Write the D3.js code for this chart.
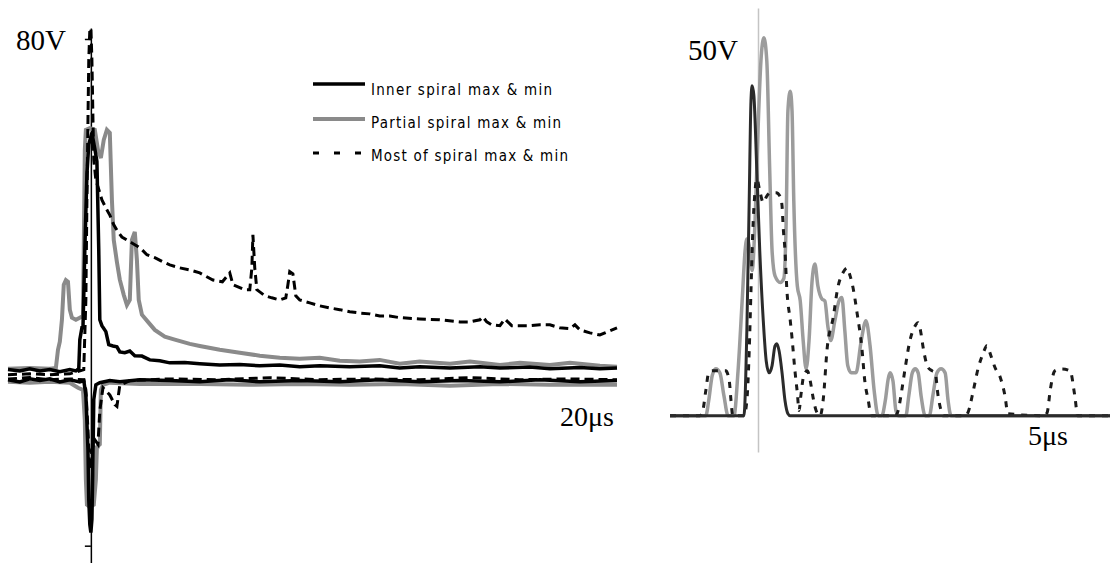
<!DOCTYPE html>
<html><head><meta charset="utf-8">
<script src="https://cdn.jsdelivr.net/npm/d3@7"></script>
<style>html,body{margin:0;padding:0;background:#fff;} svg{display:block;}</style>
</head><body>
<svg id="c" width="1112" height="563"></svg>
<script>
// ---------- LEFT PANEL DATA : [time µs, volts] ----------
const lInnerMax = [[-3.15,1.7],[-2.70,1.4],[-2.32,1.9],[-1.94,1.4],[-1.56,1.7],[-1.18,1.2],[-0.80,1.7],[-0.57,1.4],[-0.46,1.9],[-0.42,8.8],[-0.34,11.6],[-0.30,11.6],[-0.23,30.0],[-0.15,48.0],[-0.08,55.0],[0.04,57.8],[0.15,54.0],[0.23,51.0],[0.30,30.0],[0.34,13.5],[0.42,12.1],[0.57,10.7],[0.68,7.6],[0.84,7.3],[0.99,7.1],[1.10,5.9],[1.29,5.7],[1.48,6.1],[1.67,5.0],[1.94,4.9],[2.24,4.0],[2.62,3.8],[3.00,3.3],[3.57,3.4],[4.14,3.1],[4.90,2.8],[5.66,2.9],[6.42,2.6],[7.18,2.8],[7.94,2.4],[8.70,2.6],[9.84,2.4],[10.98,2.6],[11.74,2.1],[12.50,2.4],[13.65,2.1],[14.79,2.4],[15.55,2.1],[16.69,2.3],[17.45,1.9],[18.59,2.2],[19.35,1.9],[20.00,2.1]];
const lInnerMin = [[-3.15,-0.7],[-2.70,-1.2],[-2.32,-0.5],[-1.94,-0.9],[-1.56,-0.5],[-1.18,-1.2],[-0.80,-0.7],[-0.42,-1.2],[-0.27,-0.9],[-0.19,-4.3],[-0.11,-17.3],[-0.08,-29.1],[-0.04,-35.0],[0,-36.9],[0.04,-33.8],[0.08,-19.6],[0.11,-5.4],[0.19,-1.9],[0.34,-1.4],[0.72,-0.9],[1.10,-1.2],[1.86,-0.7],[3.00,-0.9],[4.14,-1.2],[5.28,-0.7],[6.42,-1.2],[7.94,-0.9],[9.46,-1.2],[10.98,-0.7],[12.50,-1.2],[14.03,-0.9],[15.55,-1.2],[17.07,-0.7],[18.59,-1.2],[20.00,-0.9]];
const lPartialMax = [[-3.15,1.9],[-2.32,2.1],[-1.56,1.9],[-1.33,2.1],[-1.25,6.4],[-1.18,8.3],[-1.10,13.5],[-1.03,21.8],[-0.95,22.9],[-0.87,22.5],[-0.80,15.9],[-0.72,14.0],[-0.57,13.5],[-0.42,14.0],[-0.30,14.4],[-0.27,30.1],[-0.23,53.7],[-0.19,58.5],[-0.04,58.9],[0.15,58.5],[0.27,53.7],[0.38,51.8],[0.49,56.1],[0.61,58.5],[0.72,57.8],[0.80,41.9],[0.87,32.4],[0.99,27.2],[1.10,23.0],[1.25,19.4],[1.37,17.0],[1.48,18.2],[1.56,32.4],[1.67,34.3],[1.75,27.7],[1.82,18.2],[1.94,14.7],[2.17,13.0],[2.43,11.1],[2.81,9.5],[3.19,8.8],[3.76,7.8],[4.14,7.3],[4.90,6.4],[5.66,5.7],[6.42,5.0],[7.18,4.5],[7.94,4.3],[8.70,4.5],[9.46,3.8],[10.22,3.6],[10.98,4.0],[11.74,3.1],[12.50,3.6],[13.65,3.1],[14.41,3.6],[15.55,2.8],[16.31,3.3],[17.45,2.8],[18.21,3.3],[19.35,2.6],[20.00,2.4]];
const lPartialMin = [[-3.15,-1.2],[-2.32,-1.4],[-1.56,-1.2],[-0.80,-1.4],[-0.49,-2.6],[-0.30,-3.1],[-0.23,-10.2],[-0.19,-24.4],[-0.15,-30.3],[-0.04,-30.8],[0.11,-30.3],[0.19,-24.4],[0.23,-16.6],[0.34,-16.0],[0.38,-3.1],[0.46,-1.9],[0.72,-1.4],[1.86,-1.7],[4.14,-1.7],[6.04,-1.9],[7.94,-1.7],[9.84,-1.9],[11.74,-1.7],[13.65,-2.1],[15.55,-1.7],[17.45,-1.9],[20.00,-1.9]];
const lMostMax = [[-3.15,0.5],[-2.32,0.7],[-1.56,0.5],[-0.80,0.7],[-0.27,1.7],[-0.19,18.2],[-0.15,41.9],[-0.11,60.8],[-0.08,75.0],[-0.04,82.1],[0,82.6],[0.04,75.0],[0.08,60.8],[0.11,51.4],[0.19,46.6],[0.27,45.0],[0.42,41.9],[0.57,40.0],[0.72,38.3],[0.87,36.0],[1.03,34.3],[1.18,33.1],[1.37,32.4],[1.56,31.7],[1.75,31.0],[1.94,30.1],[2.13,28.9],[2.43,28.2],[2.74,27.2],[3.00,26.5],[3.38,25.8],[3.76,25.3],[4.14,24.6],[4.64,22.9],[5.00,22.5],[5.28,24.6],[5.40,21.8],[5.85,20.6],[6.04,20.6],[6.12,25.8],[6.16,33.6],[6.23,25.8],[6.31,20.6],[6.42,20.1],[6.61,19.2],[6.88,18.7],[7.18,18.2],[7.41,18.7],[7.49,21.8],[7.56,24.9],[7.68,24.4],[7.79,19.2],[7.94,18.2],[8.32,17.5],[8.70,16.8],[9.08,16.3],[9.46,15.9],[9.84,15.4],[10.22,15.1],[10.60,14.9],[10.98,14.4],[11.36,14.4],[11.74,14.0],[12.50,13.7],[13.26,13.5],[14.03,13.0],[14.41,13.0],[14.79,13.5],[14.90,14.2],[15.05,13.0],[15.24,12.3],[15.55,12.1],[15.74,13.7],[15.85,13.0],[16.00,12.1],[16.31,12.1],[16.69,12.1],[17.07,12.3],[17.45,12.3],[17.82,11.6],[18.21,11.4],[18.40,12.3],[18.59,11.1],[18.97,10.4],[19.35,9.9],[19.54,10.4],[19.73,10.9],[20.00,11.6]];
const lMostMin = [[-3.15,-0.5],[-2.32,-0.2],[-1.56,-0.7],[-0.80,-0.5],[-0.27,-0.7],[-0.19,-3.1],[-0.11,-12.5],[-0.04,-22.0],[0.04,-17.3],[0.15,-14.9],[0.27,-16.0],[0.34,-8.0],[0.46,-2.6],[0.72,-4.3],[0.91,-6.6],[0.99,-7.0],[1.10,-2.0],[1.48,-0.9],[3.00,-0.5],[4.90,-0.7],[6.80,-0.2],[8.70,-0.7],[10.60,-0.5],[12.50,-0.7],[14.41,-0.2],[16.31,-0.7],[18.21,-0.5],[20.00,-0.7]];

// ---------- RIGHT PANEL DATA : [time µs, volts] ----------
const rInner = [[-1.50,0],[-0.24,0],[-0.19,12.9],[-0.15,32.6],[-0.12,47.7],[-0.10,50.0],[-0.07,48.5],[-0.02,37.1],[0.03,25.0],[0.09,14.4],[0.14,8.3],[0.19,6.5],[0.24,7.6],[0.29,10.6],[0.32,10.9],[0.36,9.8],[0.41,6.5],[0.46,2.3],[0.51,0.3],[0.55,0],[6.00,0]];
const rPartial = [[-1.50,0],[-0.89,0],[-0.84,2.3],[-0.78,6.1],[-0.72,7.1],[-0.65,6.5],[-0.58,3.0],[-0.51,0],[-0.41,0],[-0.34,6.8],[-0.27,17.4],[-0.22,25.0],[-0.19,26.8],[-0.15,25.8],[-0.10,22.0],[-0.05,29.5],[0,43.2],[0.05,53.8],[0.10,57.3],[0.15,53.8],[0.20,37.1],[0.24,25.0],[0.29,21.2],[0.38,20.2],[0.44,20.8],[0.48,29.5],[0.51,46.2],[0.55,49.2],[0.58,46.2],[0.61,32.6],[0.67,19.7],[0.72,17.4],[0.77,11.4],[0.82,7.1],[0.87,11.4],[0.92,20.2],[0.97,23.0],[1.02,19.7],[1.09,17.7],[1.14,17.4],[1.19,13.6],[1.24,11.4],[1.31,14.4],[1.38,17.4],[1.43,17.9],[1.48,12.9],[1.53,7.6],[1.59,6.5],[1.67,6.5],[1.76,11.4],[1.84,14.4],[1.91,10.6],[1.98,3.8],[2.05,0],[2.11,0],[2.17,2.3],[2.22,5.6],[2.25,6.5],[2.30,5.3],[2.35,0.8],[2.40,0],[2.52,0],[2.57,3.0],[2.63,6.5],[2.68,7.1],[2.73,6.5],[2.78,3.0],[2.85,0],[2.92,0],[2.98,3.0],[3.05,6.5],[3.12,7.1],[3.19,6.5],[3.24,2.3],[3.29,0],[6.00,0]];
const rMost = [[-1.50,0],[-0.99,0],[-0.94,0.8],[-0.89,3.8],[-0.84,6.5],[-0.78,6.8],[-0.55,6.8],[-0.49,5.3],[-0.46,2.3],[-0.43,0],[-0.24,0],[-0.19,2.3],[-0.15,9.8],[-0.12,18.9],[-0.09,27.6],[-0.05,34.1],[-0.02,35.9],[0.03,34.1],[0.09,32.3],[0.15,33.3],[0.22,33.8],[0.31,33.8],[0.38,33.2],[0.41,31.8],[0.43,28.5],[0.46,25.0],[0.49,19.4],[0.55,14.4],[0.58,11.8],[0.63,6.8],[0.67,3.5],[0.70,0.8],[0.73,3.0],[0.78,6.1],[0.84,6.8],[0.89,5.3],[0.94,2.7],[0.99,0.8],[1.06,0],[1.11,2.3],[1.18,10.3],[1.28,14.8],[1.36,19.4],[1.45,21.7],[1.52,22.4],[1.57,21.2],[1.62,19.4],[1.69,15.5],[1.77,10.3],[1.82,5.3],[1.88,2.3],[1.93,0],[2.34,0],[2.39,0.8],[2.45,3.8],[2.51,7.3],[2.59,11.4],[2.66,13.3],[2.73,14.1],[2.78,12.4],[2.81,10.6],[2.90,7.3],[2.97,6.8],[3.02,6.5],[3.07,3.0],[3.12,0.8],[3.15,0],[3.53,0],[3.58,0.5],[3.67,3.8],[3.75,7.1],[3.84,9.5],[3.90,10.6],[3.97,9.1],[4.04,7.3],[4.13,5.8],[4.21,3.0],[4.26,0.3],[4.88,0],[4.93,0.5],[4.98,3.8],[5.06,6.8],[5.18,7.1],[5.32,6.8],[5.40,3.0],[5.45,0],[6.00,0]];

// ---------- LABELS ----------
const legendLabels = ["Inner spiral max & min", "Partial spiral max & min", "Most of spiral max & min"];
const leftYTicks = [80, -40];
const leftYLabel = "80V";
const leftXLabel = "20μs";
const rightYLabel = "50V";
const rightXLabel = "5μs";

// ---------- DRAW ----------
const svg = d3.select("#c");
svg.append("rect").attr("width",1112).attr("height",563).attr("fill","#fff");

const xL = d3.scaleLinear().domain([-3.15, 20]).range([8, 617]);
const yL = d3.scaleLinear().domain([-44.1, 82.6]).range([563, 28]);
const xR = d3.scaleLinear().domain([-1.5, 6]).range([670, 1110]);
const yR = d3.scaleLinear().domain([-5.5, 61.8]).range([452, 8]);

const lineL = d3.line().x(d => xL(d[0])).y(d => yL(d[1]));
const lineR = d3.line().x(d => xR(d[0])).y(d => yR(d[1])).curve(d3.curveMonotoneX);

const styles = {
  inner:   {stroke:"#000", width:3.5, dash:null},
  partial: {stroke:"#8a8a8a", width:4, dash:null},
  most:    {stroke:"#000", width:3, dash:"9,5"}
};

// left panel axis
const gLA = svg.append("g").attr("transform", `translate(${xL(0)},0)`)
  .call(d3.axisLeft(yL).tickValues(leftYTicks).tickSize(6).tickSizeOuter(0).tickFormat(""));
gLA.select(".domain").attr("stroke","#000").attr("stroke-width",1.5);
gLA.selectAll(".tick line").attr("stroke","#000").attr("stroke-width",1.5);

const gL = svg.append("g");
function drawL(data, s){
  gL.append("path").datum(data).attr("d", lineL).attr("fill","none")
    .attr("stroke", s.stroke).attr("stroke-width", s.width)
    .attr("stroke-dasharray", s.dash).attr("stroke-linejoin","miter");
}
drawL(lPartialMin, styles.partial);
drawL(lPartialMax, styles.partial);
drawL(lInnerMin, styles.inner);
drawL(lInnerMax, styles.inner);
drawL(lMostMin, styles.most);
drawL(lMostMax, styles.most);

// left labels
const serif = "'Liberation Serif','Times New Roman',serif";
svg.append("text").attr("x",16).attr("y",50).attr("font-family",serif).attr("font-size",29).text(leftYLabel);
svg.append("text").attr("x",560).attr("y",426).attr("font-family",serif).attr("font-size",28).text(leftXLabel);

// legend
const legX = 313, legW = 52, legText = 371;
const legY = [84, 119, 153];
const legTextY = [95, 128, 161];
const legLen = [181, 190, 197];
const legStyles = [styles.inner, styles.partial, {stroke:"#000", width:3, dash:"6,15"}];
legendLabels.forEach((lab, i) => {
  svg.append("line").attr("x1",legX).attr("x2",legX+legW).attr("y1",legY[i]).attr("y2",legY[i])
    .attr("stroke",legStyles[i].stroke).attr("stroke-width",legStyles[i].width)
    .attr("stroke-dasharray",legStyles[i].dash);
  svg.append("text").attr("x",legText).attr("y",legTextY[i])
    .attr("font-family","'DejaVu Sans Condensed','DejaVu Sans',sans-serif").attr("font-size",15)
    .attr("textLength",legLen[i]).attr("lengthAdjust","spacing").attr("fill","#000").text(lab);
});

// right panel
const gRA = svg.append("g").attr("transform", `translate(${xR(0)},0)`)
  .call(d3.axisLeft(yR).tickValues([]).tickSizeOuter(0));
gRA.select(".domain").attr("stroke","#c4c4c4").attr("stroke-width",1.5);

const gR = svg.append("g");
function drawR(data, stroke, width, dash){
  gR.append("path").datum(data).attr("d", lineR).attr("fill","none")
    .attr("stroke", stroke).attr("stroke-width", width).attr("stroke-dasharray", dash)
    .attr("stroke-linejoin","round");
}
drawR(rPartial, "#9c9c9c", 3.5, null);
drawR(rMost, "#1a1a1a", 3, "6,7");
drawR(rInner, "#2b2b2b", 3, null);

svg.append("text").attr("x",688).attr("y",60).attr("font-family",serif).attr("font-size",29).text(rightYLabel);
svg.append("text").attr("x",1028).attr("y",445).attr("font-family",serif).attr("font-size",28).text(rightXLabel);
</script></body></html>
